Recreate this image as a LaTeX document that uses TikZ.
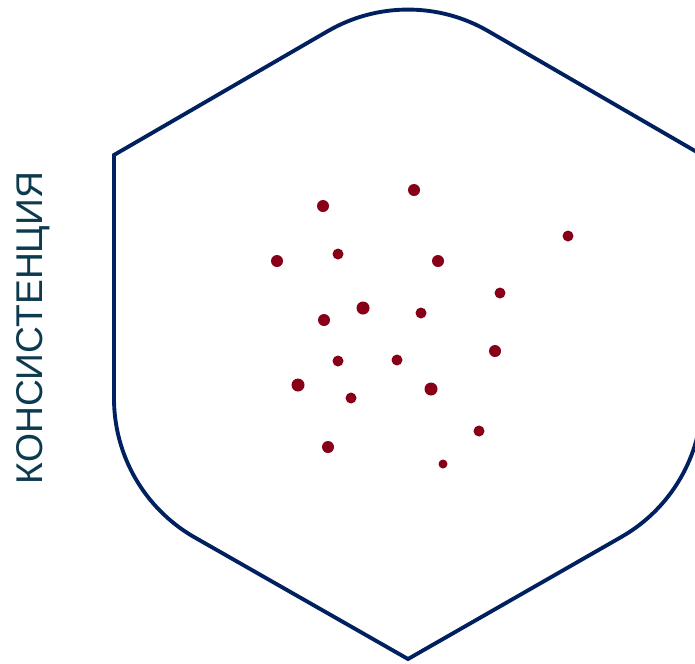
\documentclass[tikz,border=0pt]{standalone}
\usepackage{fontspec}
\setmainfont{Liberation Sans}
\usetikzlibrary{positioning}
\definecolor{hexblue}{HTML}{002060}
\definecolor{dotred}{HTML}{880018}
\definecolor{axisteal}{HTML}{0C3A4E}

\begin{document}
\begin{tikzpicture}[
x=0.02cm, y=-0.02cm,
hexline/.style={draw=hexblue, line width=2.2pt, line join=miter},
dot/.style={fill=dotred},
axistext/.style={text=axisteal, font=\fontsize{21.2}{25}\selectfont, rotate=90, inner sep=0pt}
]
\useasboundingbox (0,0) rectangle (695,663);
\clip (0,0) rectangle (695,663);
\node[axistext] (consistency) at (33,328) {КОНСИСТЕНЦИЯ};
\draw[hexline] (114,155) -- (328,31) arc (240:300:160) -- (702,155) -- (702,398)
  arc (0:60:160) -- (408,659) -- (194,537) arc (120:180:160) -- cycle;
\foreach \x/\y/\r in {414/190/6, 323/206/6, 568/236/5.5, 277/261/6, 338/254/5.5,
  438/261/6, 500/293/5.5, 363/308/6.5, 324/320/6, 421/313/5.5, 495/351/6,
  338/361/5.5, 397/360/5.5, 298/385/6.5, 351/398/5.5, 431/389/6.5, 479/431/5.5,
  328/447/6, 443/464/4.5}
  \fill[dot] (\x,\y) circle (\r);
\end{tikzpicture}
\end{document}
